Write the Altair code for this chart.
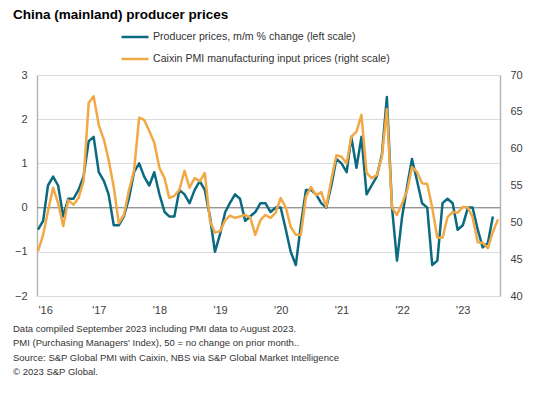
import altair as alt
import pandas as pd

FONT = "Liberation Sans"
BLUE = "#0B6A80"
ORANGE = "#F2A844"

TITLE = "China (mainland) producer prices"
SER_PPI = "Producer prices, m/m % change (left scale)"
SER_PMI = "Caixin PMI manufacturing input prices (right scale)"
FOOTNOTES = [
    "Data compiled September 2023 including PMI data to August 2023.",
    "PMI (Purchasing Managers' Index), 50 = no change on prior month..",
    "Source: S&P Global PMI with Caixin, NBS via S&P Global Market Intelligence",
    "\u00a9 2023 S&P Global.",
]

# monthly, Jan 2016 onwards
months = pd.date_range("2016-01-01", periods=92, freq="MS").strftime("%Y-%m-%d").tolist()

ppi = [
    -0.5, -0.3, 0.5, 0.7, 0.5, -0.2, 0.2, 0.2, 0.4, 0.7, 1.5, 1.6,     # 2016
    0.8, 0.6, 0.3, -0.4, -0.4, -0.2, 0.2, 0.8, 1.0, 0.7, 0.5, 0.8,     # 2017
    0.3, -0.1, -0.2, -0.2, 0.4, 0.3, 0.1, 0.4, 0.6, 0.4, -0.2, -1.0,   # 2018
    -0.6, -0.1, 0.1, 0.3, 0.2, -0.3, -0.2, -0.1, 0.1, 0.1, -0.1, 0.0,  # 2019
    0.0, -0.5, -1.0, -1.3, -0.4, 0.4, 0.4, 0.3, 0.1, 0.0, 0.5, 1.1,    # 2020
    1.0, 0.8, 1.6, 0.9, 1.6, 0.3, 0.5, 0.7, 1.2, 2.5, 0.0, -1.2,       # 2021
    -0.2, 0.5, 1.1, 0.6, 0.1, 0.0, -1.3, -1.2, 0.1, 0.2, 0.1, -0.5,    # 2022
    -0.4, 0.0, 0.0, -0.5, -0.9, -0.8, -0.2,                            # 2023
]

pmi = [
    46.1, 48.3, 51.5, 54.7, 52.6, 49.5, 53.0, 52.4, 53.3, 55.6, 66.2, 67.1,  # 2016
    63.2, 61.2, 58.5, 54.8, 49.9, 51.0, 54.3, 57.0, 64.2, 63.9, 62.4, 60.8,  # 2017
    57.4, 56.0, 53.3, 53.6, 54.4, 57.0, 54.7, 56.0, 55.6, 56.7, 50.2, 48.6,  # 2018
    48.8, 50.3, 50.9, 50.6, 50.8, 51.0, 50.7, 48.3, 50.3, 51.0, 50.6, 51.3,  # 2019
    53.3, 52.0, 49.4, 48.3, 48.3, 53.5, 54.8, 53.7, 54.1, 52.1, 55.8, 59.1,  # 2020
    58.9, 58.0, 61.6, 62.3, 64.6, 56.7, 56.0, 56.4, 58.9, 65.4, 52.0, 51.0,  # 2021
    52.6, 54.4, 57.5, 56.8, 55.3, 55.2, 52.0, 47.9, 47.9, 50.7, 51.4, 51.3,  # 2022
    52.1, 52.0, 50.7, 47.3, 47.2, 46.5, 48.7, 50.4,                          # 2023
]

left_ticks = [-2, -1, 0, 1, 2, 3]
right_ticks = [40, 45, 50, 55, 60, 65, 70]
year_ticks = list(range(2016, 2024))

df_ppi = pd.DataFrame({"date": months[:len(ppi)], "value": ppi, "series": SER_PPI})
df_pmi = pd.DataFrame({"date": months[:len(pmi)], "value": pmi, "series": SER_PMI})
df_zero = pd.DataFrame({"value": [0]})
df_dummy = pd.DataFrame({"k": [0]})

x_enc = alt.X(
    "date:T",
    scale=alt.Scale(
        type="utc",
        domain=[
            alt.DateTime(year=2015, month=12, date=26, utc=True),
            alt.DateTime(year=2023, month=8, date=13, utc=True),
        ],
    ),
    axis=alt.Axis(
        title=None,
        values=[alt.DateTime(year=y, month=1, date=1, utc=True) for y in year_ticks],
        labelExpr="\"'\" + utcFormat(datum.value, '%y')",
        grid=False,
        domain=False,
        ticks=False,
        labelPadding=8,
        labelFontSize=11,
        labelFont=FONT,
        labelColor="#404040",
    ),
)

color_enc = alt.Color(
    "series:N",
    scale=alt.Scale(domain=[SER_PPI, SER_PMI], range=[BLUE, ORANGE]),
    legend=alt.Legend(
        title=None,
        orient="none",
        legendX=83,
        legendY=-53,
        direction="vertical",
        symbolType="stroke",
        symbolSize=729,
        symbolStrokeWidth=2.5,
        labelFontSize=10.6,
        labelFont=FONT,
        labelColor="#333333",
        labelOffset=3,
        labelLimit=0,
        rowPadding=1,
    ),
)

left_scale = alt.Scale(domain=[-2, 3], nice=False, zero=False)
right_scale = alt.Scale(domain=[40, 70], nice=False, zero=False)

left_axis = alt.Axis(
    title=None,
    orient="left",
    values=left_ticks,
    ticks=False,
    labelPadding=10,
    labelFontSize=11,
    labelFont=FONT,
    labelColor="#404040",
    grid=True,
    gridColor="#dcdcdc",
    gridWidth=1,
    domainColor="#b4b4b4",
    domainWidth=1.5,
)
right_axis = alt.Axis(
    title=None,
    orient="right",
    values=right_ticks,
    ticks=False,
    labelPadding=10,
    labelFontSize=11,
    labelFont=FONT,
    labelColor="#404040",
    grid=False,
    domainColor="#b4b4b4",
    domainWidth=1.5,
)

zero_rule = alt.Chart(df_zero).mark_rule(color="#8c8c8c", strokeWidth=1).encode(
    y=alt.Y("value:Q", scale=left_scale, axis=left_axis)
)

ppi_line = alt.Chart(df_ppi).mark_line(strokeWidth=2.5, strokeJoin="round").encode(
    x=x_enc,
    y=alt.Y("value:Q", scale=left_scale, axis=left_axis),
    color=color_enc,
)

title_text = alt.Chart(df_dummy).mark_text(
    align="left", baseline="alphabetic", font=FONT, fontSize=13.5,
    fontWeight="bold", color="#000000",
).encode(x=alt.value(-24), y=alt.value(-56.3), text=alt.value(TITLE))

foot_text = alt.Chart(df_dummy).mark_text(
    align="left", baseline="alphabetic", font=FONT, fontSize=9.5,
    color="#333333", lineHeight=14.5,
).encode(x=alt.value(-24), y=alt.value(256.5), text=alt.value(FOOTNOTES))

left = alt.layer(zero_rule, ppi_line, title_text, foot_text)

pmi_line = alt.Chart(df_pmi).mark_line(strokeWidth=2.5, strokeJoin="round").encode(
    x=x_enc,
    y=alt.Y("value:Q", scale=right_scale, axis=right_axis),
    color=color_enc,
)

chart = (
    alt.layer(left, pmi_line)
    .resolve_scale(y="independent")
    .properties(
        width=463,
        height=221,
        autosize=alt.AutoSizeParams(type="none"),
        padding={"left": 29, "top": 67, "right": 50, "bottom": 94},
        background="white",
    )
    .configure_view(stroke=None)
)

chart.save("out.html", embed_options={"renderer": "svg", "actions": False})
